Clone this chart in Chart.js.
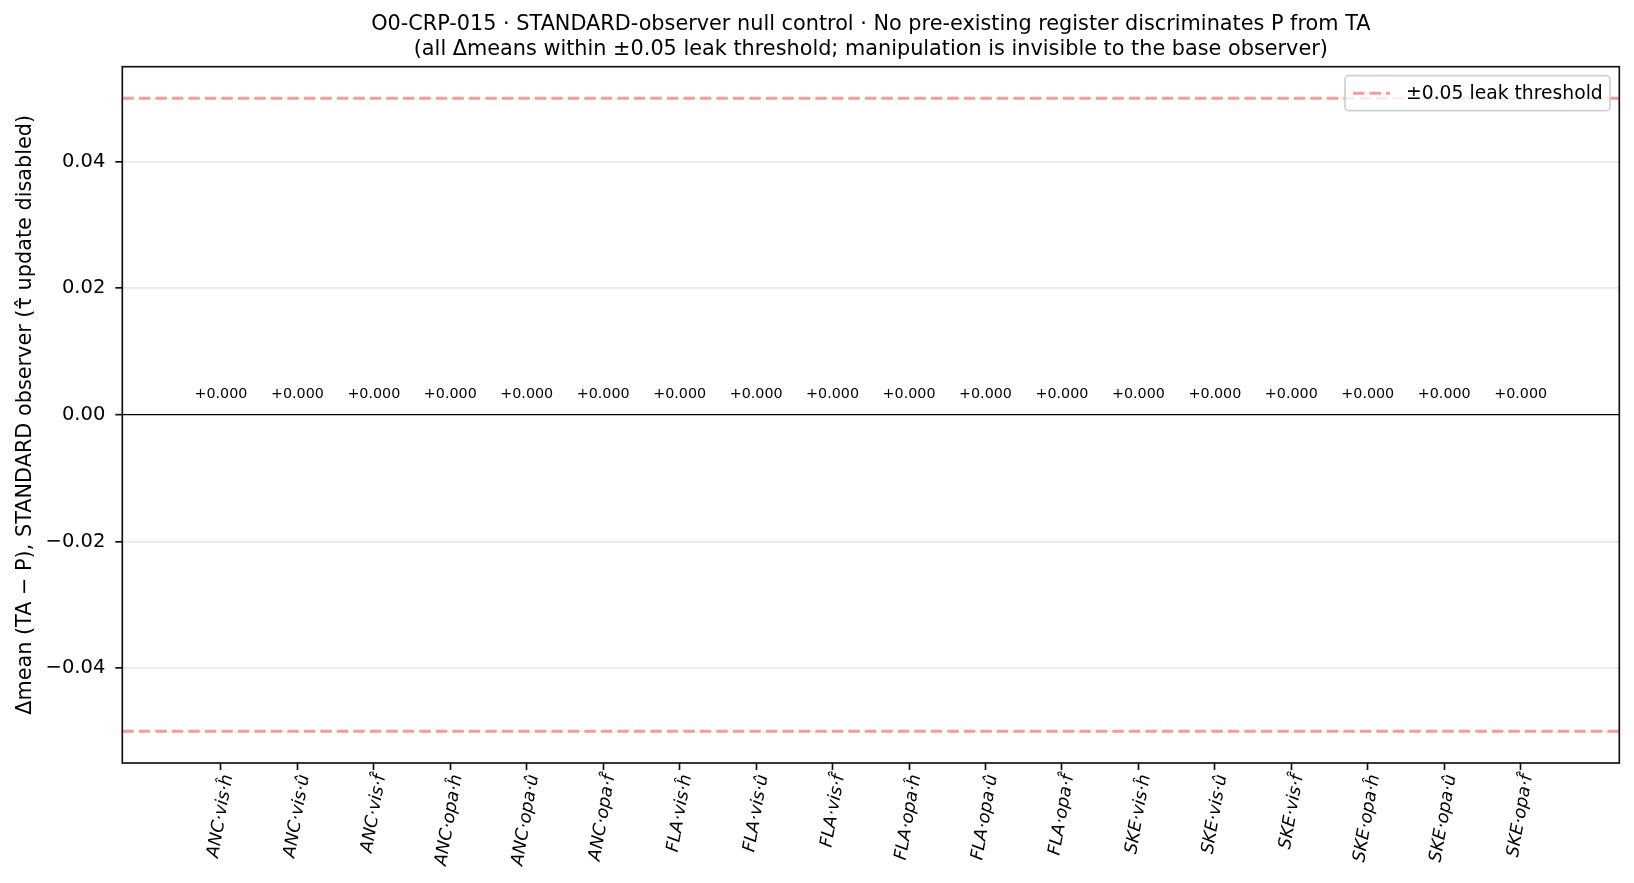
<!DOCTYPE html>
<html lang="en">
<head>
    <meta charset="UTF-8">
    <title>O0-CRP-015 STANDARD-observer null control</title>
    <style>
        body {
            margin: 0;
            padding: 0;
            background-color: white;
        }
        #chartBox {
            position: relative;
            width: 1634px;
            height: 883px;
        }
    </style>
    <script src="https://cdn.jsdelivr.net/npm/chart.js"></script>
</head>
<body>
    <div id="chartBox">
        <canvas id="nullChart"></canvas>
    </div>
    <script>
        const categories = [
            "ANC·vis·ĥ", "ANC·vis·û", "ANC·vis·f̂",
            "ANC·opa·ĥ", "ANC·opa·û", "ANC·opa·f̂",
            "FLA·vis·ĥ", "FLA·vis·û", "FLA·vis·f̂",
            "FLA·opa·ĥ", "FLA·opa·û", "FLA·opa·f̂",
            "SKE·vis·ĥ", "SKE·vis·û", "SKE·vis·f̂",
            "SKE·opa·ĥ", "SKE·opa·û", "SKE·opa·f̂"
        ];
        const deltaMeans = [0, 0, 0, 0, 0, 0, 0, 0, 0, 0, 0, 0, 0, 0, 0, 0, 0, 0];
        const yTicks = [-0.04, -0.02, 0, 0.02, 0.04];
        const leakThreshold = 0.05;
        const yLimits = [-0.055, 0.055];
        const xLimits = [-1.29, 18.29];

        const titleLines = [
            "O0-CRP-015 · STANDARD-observer null control · No pre-existing register discriminates P from TA",
            "(all Δmeans within ±0.05 leak threshold; manipulation is invisible to the base observer)"
        ];
        const yTitle = "Δmean (TA − P), STANDARD observer (τ̂ update disabled)";
        const legendLabel = "±0.05 leak threshold";

        const FONT = "'DejaVu Sans', 'Noto Sans', sans-serif";
        const dashColor = "rgba(240,128,128,0.78)";
        const dashPattern = [11.5, 5];

        function fmtSigned(v) {
            return (v >= 0 ? "+" : "\u2212") + Math.abs(v).toFixed(3);
        }

        // title, frame, value labels, legend
        const decorPlugin = {
            id: "decor",
            afterDatasetsDraw(chart) {
                const ctx = chart.ctx;
                const area = chart.chartArea;
                const xs = chart.scales.x;
                const ys = chart.scales.y;
                ctx.save();

                ctx.fillStyle = "#000";
                ctx.font = "14.3px " + FONT;
                ctx.textAlign = "center";
                ctx.textBaseline = "middle";
                for (let i = 0; i < deltaMeans.length; i++) {
                    const px = xs.getPixelForValue(i);
                    const py = ys.getPixelForValue(deltaMeans[i]) - 21;
                    ctx.fillText(fmtSigned(deltaMeans[i]), px, py);
                }

                ctx.strokeStyle = "#111";
                ctx.lineWidth = 1.67;
                ctx.strokeRect(area.left, area.top, area.right - area.left, area.bottom - area.top);

                // legend
                const lx = 1345, ly = 75.7, lw = 265, lh = 35;
                ctx.beginPath();
                ctx.roundRect(lx, ly, lw, lh, 4);
                ctx.fillStyle = "rgba(255,255,255,0.8)";
                ctx.fill();
                ctx.strokeStyle = "#d0d0d0";
                ctx.lineWidth = 1.67;
                ctx.stroke();
                ctx.beginPath();
                ctx.setLineDash(dashPattern);
                ctx.strokeStyle = dashColor;
                ctx.lineWidth = 3;
                ctx.moveTo(lx + 8, ly + lh / 2);
                ctx.lineTo(lx + 45, ly + lh / 2);
                ctx.stroke();
                ctx.setLineDash([]);
                ctx.fillStyle = "#000";
                ctx.font = "18.75px " + FONT;
                ctx.textAlign = "left";
                ctx.textBaseline = "middle";
                ctx.fillText(legendLabel, lx + 61, ly + lh / 2 + 1);

                // title
                const cx = (area.left + area.right) / 2;
                ctx.font = "20.8px " + FONT;
                ctx.textAlign = "center";
                ctx.textBaseline = "alphabetic";
                ctx.fillText(titleLines[0], cx, 30);
                ctx.fillText(titleLines[1], cx, 54.5);
                ctx.restore();
            }
        };

        const barData = categories.map((c, i) => ({ x: i, y: deltaMeans[i] }));

        new Chart(document.getElementById("nullChart"), {
            data: {
                datasets: [
                    {
                        type: "bar",
                        label: "Δmean",
                        data: barData,
                        backgroundColor: "#4c72b0",
                        barPercentage: 0.8,
                        categoryPercentage: 1
                    },
                    {
                        type: "line",
                        label: legendLabel,
                        data: [{ x: xLimits[0], y: leakThreshold }, { x: xLimits[1], y: leakThreshold }],
                        borderColor: dashColor,
                        borderWidth: 3,
                        borderDash: dashPattern,
                        pointRadius: 0
                    },
                    {
                        type: "line",
                        label: "",
                        data: [{ x: xLimits[0], y: -leakThreshold }, { x: xLimits[1], y: -leakThreshold }],
                        borderColor: dashColor,
                        borderWidth: 3,
                        borderDash: dashPattern,
                        pointRadius: 0
                    }
                ]
            },
            options: {
                responsive: true,
                maintainAspectRatio: false,
                animation: false,
                layout: {
                    padding: { top: 66.7, right: 14.7, bottom: 0, left: 0 }
                },
                plugins: {
                    legend: { display: false },
                    title: { display: false },
                    tooltip: { enabled: false }
                },
                scales: {
                    x: {
                        type: "linear",
                        min: xLimits[0],
                        max: xLimits[1],
                        offset: false,
                        afterBuildTicks: (scale) => {
                            scale.ticks = categories.map((c, i) => ({ value: i }));
                        },
                        afterFit: (scale) => {
                            scale.height = 120;
                        },
                        border: { display: false },
                        grid: {
                            offset: false,
                            drawOnChartArea: false,
                            drawTicks: true,
                            tickLength: 7,
                            tickColor: "#111",
                            tickWidth: 1.67
                        },
                        ticks: {
                            autoSkip: false,
                            maxRotation: 80,
                            minRotation: 80,
                            padding: 3,
                            labelOffset: 7,
                            color: "#000",
                            font: { family: FONT, size: 17.5, style: "italic" },
                            callback: (v) => categories[v]
                        }
                    },
                    y: {
                        type: "linear",
                        min: yLimits[0],
                        max: yLimits[1],
                        afterBuildTicks: (scale) => {
                            scale.ticks = yTicks.map((v) => ({ value: v }));
                        },
                        afterFit: (scale) => {
                            scale.width = 122.3;
                        },
                        border: { display: false },
                        grid: {
                            drawTicks: true,
                            tickLength: 7,
                            tickColor: "#111",
                            tickWidth: 1.67,
                            color: (c) => (c.tick && c.tick.value === 0 ? "#000" : "#e8e8e8"),
                            lineWidth: (c) => (c.tick && c.tick.value === 0 ? 1.3 : 1.7)
                        },
                        ticks: {
                            padding: 10,
                            color: "#000",
                            font: { family: FONT, size: 19.5 },
                            callback: (v) => (v < 0 ? "\u2212" : "") + Math.abs(v).toFixed(2)
                        },
                        title: {
                            display: true,
                            text: yTitle,
                            color: "#000",
                            padding: { top: 13, bottom: 0 },
                            font: { family: FONT, size: 20.8 }
                        }
                    }
                }
            },
            plugins: [decorPlugin]
        });
    </script>
</body>
</html>
